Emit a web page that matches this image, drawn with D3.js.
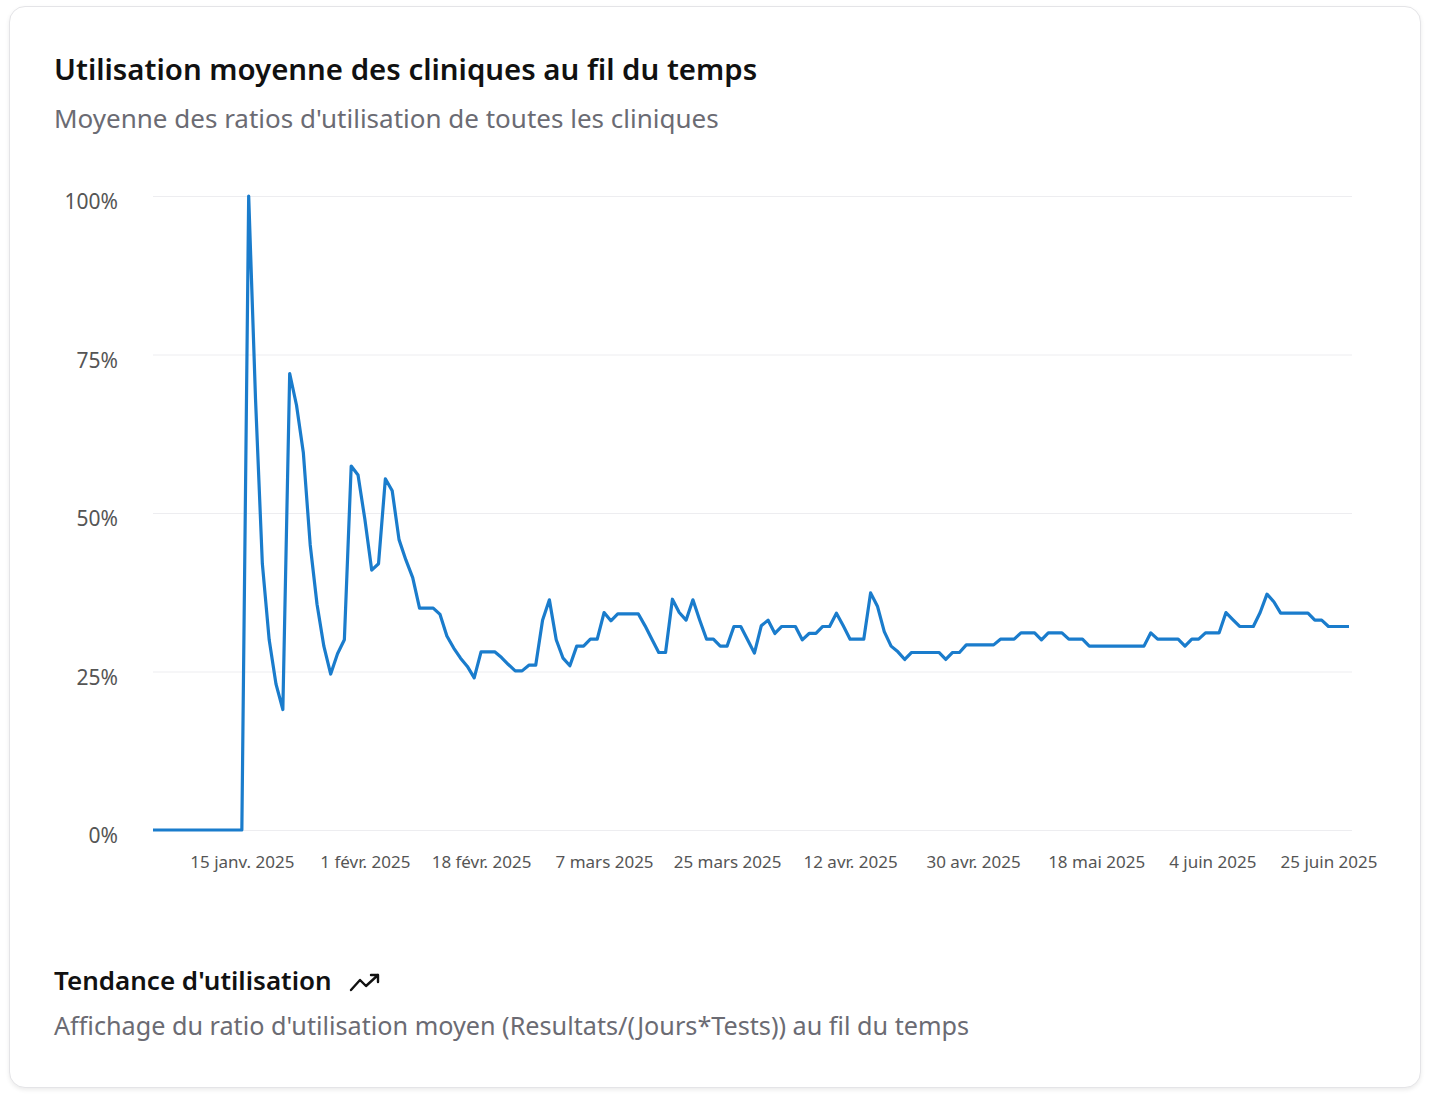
<!DOCTYPE html>
<html><head><meta charset="utf-8">
<script src="https://cdn.jsdelivr.net/npm/d3@7"></script>
<style>
body{margin:0;background:#fff;font-family:"Noto Sans",sans-serif;}
#card{position:absolute;left:9px;top:6px;width:1410px;height:1080px;border:1px solid #e4e4e7;border-radius:16px;box-shadow:0 2px 4px rgba(0,0,0,0.08);background:#fff;}
svg{position:absolute;left:0;top:0;}
</style></head><body>
<div id="card"></div>
<svg id="chart" width="1436" height="1096"></svg>
<script>
const values = [0,0,0,0,0,0,0,0,0,0,0,0,0,0,100,68,42,30,23,19,72,67,59.5,45,35.6,29,24.6,27.8,30,57.4,56,49,41,42,55.4,53.5,45.8,42.6,39.8,35,35,35,34,30.6,28.7,27.1,25.8,24,
28.1,28.1,28.1,27.2,26.1,25.1,25.1,26,26,33.1,36.3,30,27.1,25.9,29,29,30.1,30.1,34.3,33,34.1,34.1,34.1,34.1,32.2,30.1,28,28,36.4,34.3,33.1,36.3,33.1,30.1,30.1,29,29,32.1,32.1,30,27.9,32.2,33.1,31,32.1,32.1,32.1,30,31,31,32.1,32.1,34.2,32.2,30.1,30.1,30.1,37.4,35.3,31.3,29,28.1,26.9,28,28,
28,28,28,26.9,28,28,29.2,29.2,29.2,29.2,29.2,30.1,30.1,30.1,31.1,31.1,31.1,30,31.1,31.1,31.1,30.1,30.1,30.1,29,29,29,29,29,29,29,29,29,31.1,30.1,30.1,30.1,30.1,29,30.1,30.1,31.1,31.1,31.1,34.3,33.2,32.1,32.1,32.1,34.3,37.2,36,34.2,34.2,34.2,34.2,34.2,33.1,33.1,32.1,32.1,32.1,32.1];
const tickIndex = [13,31,48,66,84,102,120,138,155,172];
const tickLabels = ["15 janv. 2025","1 févr. 2025","18 févr. 2025","7 mars 2025","25 mars 2025","12 avr. 2025","30 avr. 2025","18 mai 2025","4 juin 2025","25 juin 2025"];
const yTicks = [0,25,50,75,100];

const svg = d3.select("#chart");
const x = d3.scaleLinear().domain([0, values.length-1]).range([153,1349]);
const y = d3.scaleLinear().domain([0,100]).range([830,196]);

svg.append("text").attr("x",54).attr("y",80).attr("font-size",29.4).attr("font-weight",600).attr("fill","#111")
  .text("Utilisation moyenne des cliniques au fil du temps");
svg.append("text").attr("x",54).attr("y",128).attr("font-size",26).attr("fill","#6b6b73")
  .text("Moyenne des ratios d'utilisation de toutes les cliniques");

const yAxis = svg.append("g").attr("transform","translate(153,0)")
  .call(d3.axisLeft(y).tickValues(yTicks).tickFormat(d=>d+"%").tickSize(-1199).tickPadding(35));
yAxis.select(".domain").remove();
yAxis.selectAll("line").attr("stroke","#ededf0");
yAxis.selectAll("text").attr("font-size",21).attr("fill","#555").attr("font-family","Noto Sans").attr("dy","0.6em");

const xAxis = svg.append("g").attr("transform","translate(0,830)")
  .call(d3.axisBottom(x).tickValues(tickIndex).tickFormat((d,i)=>tickLabels[i]).tickSize(0).tickPadding(26));
xAxis.select(".domain").remove();
xAxis.selectAll("text").attr("font-size",17).attr("fill","#555").attr("font-family","Noto Sans");

svg.append("path").datum(values).attr("fill","none").attr("stroke","#1a7ccc").attr("stroke-width",3.2)
  .attr("stroke-linejoin","round")
  .attr("d", d3.line().x((d,i)=>x(i)).y(d=>y(d)));

svg.append("text").attr("x",54).attr("y",990).attr("font-size",26).attr("font-weight",600).attr("fill","#111")
  .text("Tendance d'utilisation");
svg.append("path").attr("d","M351,990 L360,980 L366,986 L378,975 M371,975 L378,975 L378,982")
  .attr("fill","none").attr("stroke","#111").attr("stroke-width",2.4).attr("stroke-linecap","round").attr("stroke-linejoin","round");
svg.append("text").attr("x",54).attr("y",1035).attr("font-size",25.2).attr("fill","#6b6b73")
  .text("Affichage du ratio d'utilisation moyen (Resultats/(Jours*Tests)) au fil du temps");
</script></body></html>
